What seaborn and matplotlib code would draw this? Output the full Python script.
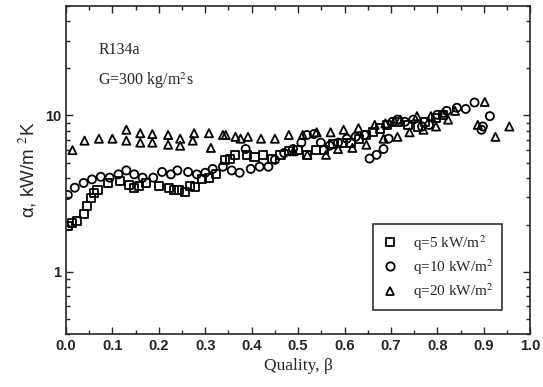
import matplotlib
matplotlib.use("Agg")
import matplotlib.pyplot as plt
from matplotlib.lines import Line2D
from matplotlib.ticker import MultipleLocator, LogLocator, NullFormatter, FixedLocator, FixedFormatter
import seaborn as sns
import pandas as pd

# q = 5 kW/m2 (squares)
q5_x = [0.005, 0.013, 0.023, 0.038, 0.045, 0.053, 0.060, 0.068, 0.090, 0.117, 0.135, 0.147,
        0.158, 0.173, 0.200, 0.222, 0.233, 0.244, 0.256, 0.267, 0.278, 0.293, 0.308, 0.323,
        0.342, 0.353, 0.365, 0.390, 0.406, 0.425, 0.444, 0.462, 0.480, 0.500, 0.519, 0.538,
        0.556, 0.575, 0.594, 0.613, 0.632, 0.647, 0.662, 0.677, 0.692, 0.714, 0.737, 0.759,
        0.774, 0.797, 0.812]
q5_y = [1.95, 2.05, 2.10, 2.35, 2.65, 2.95, 3.20, 3.35, 3.70, 3.80, 3.60, 3.45,
        3.55, 3.70, 3.55, 3.45, 3.35, 3.35, 3.25, 3.55, 3.50, 3.90, 4.00, 4.20,
        5.20, 5.30, 5.60, 5.60, 5.45, 5.60, 5.30, 5.60, 5.90, 6.05, 5.60, 6.05,
        6.05, 6.55, 6.70, 6.70, 7.10, 7.45, 7.80, 8.25, 8.70, 9.10, 8.70, 8.50,
        9.10, 9.60, 10.1]

# q = 10 kW/m2 (circles)
q10_x = [0.004, 0.019, 0.038, 0.056, 0.075, 0.094, 0.113, 0.130, 0.147, 0.165, 0.188, 0.207,
         0.226, 0.240, 0.263, 0.282, 0.300, 0.316, 0.338, 0.357, 0.374, 0.387, 0.398, 0.417,
         0.436, 0.450, 0.470, 0.489, 0.507, 0.519, 0.534, 0.549, 0.568, 0.586, 0.605, 0.624,
         0.643, 0.654, 0.669, 0.684, 0.695, 0.703, 0.714, 0.730, 0.748, 0.767, 0.782, 0.800,
         0.820, 0.842, 0.861, 0.880, 0.895, 0.898, 0.913]
q10_y = [3.10, 3.45, 3.70, 3.90, 4.05, 4.00, 4.20, 4.45, 4.20, 4.00, 4.00, 4.35,
         4.20, 4.45, 4.35, 4.20, 4.30, 4.55, 4.70, 4.45, 4.30, 6.10, 4.55, 4.70,
         4.70, 5.20, 5.75, 6.10, 6.70, 7.50, 7.60, 6.70, 6.40, 6.70, 7.10, 7.30,
         7.50, 5.30, 5.60, 6.10, 7.10, 9.10, 9.40, 9.10, 9.40, 8.50, 8.70, 10.1,
         10.7, 11.2, 11.0, 12.1, 8.10, 8.50, 9.90]

# q = 20 kW/m2 (triangles)
q20_x = [0.014, 0.040, 0.071, 0.100, 0.130, 0.130, 0.160, 0.160, 0.186, 0.186, 0.220, 0.220,
         0.246, 0.246, 0.276, 0.273, 0.308, 0.312, 0.338, 0.344, 0.365, 0.376, 0.392, 0.420,
         0.450, 0.480, 0.510, 0.540, 0.570, 0.598, 0.630, 0.665, 0.688, 0.720, 0.756, 0.786,
         0.812, 0.838, 0.902, 0.925, 0.955, 0.490, 0.520, 0.560, 0.586, 0.617, 0.647, 0.684,
         0.714, 0.740, 0.770, 0.797, 0.823, 0.887]
q20_y = [6.0, 6.9, 7.1, 7.1, 8.1, 6.9, 7.7, 6.7, 7.6, 6.7, 7.5, 6.5,
         7.1, 6.4, 7.7, 6.9, 7.7, 6.2, 7.5, 7.5, 7.3, 7.1, 7.3, 7.1,
         7.1, 7.5, 7.5, 7.8, 7.8, 8.1, 8.3, 8.7, 8.9, 9.4, 9.9, 9.9,
         10.4, 10.7, 12.2, 7.3, 8.5, 5.9, 5.6, 5.6, 6.1, 6.2, 6.5, 7.1,
         7.3, 7.8, 8.1, 8.5, 9.4, 8.7]

labels = [r"q=5 kW/m$^2$", r"q=10 kW/m$^2$", r"q=20 kW/m$^2$"]

df = pd.concat([
    pd.DataFrame({"beta": q5_x, "alpha": q5_y, "series": labels[0]}),
    pd.DataFrame({"beta": q10_x, "alpha": q10_y, "series": labels[1]}),
    pd.DataFrame({"beta": q20_x, "alpha": q20_y, "series": labels[2]}),
])

sns.set_style("ticks")
plt.rcParams["font.family"] = ["Liberation Serif", "DejaVu Serif"]
plt.rcParams["mathtext.fontset"] = "stix"

fig = plt.figure(figsize=(5.43, 3.87), dpi=100)
ax = fig.add_axes([0.1215, 0.137, 0.855, 0.847])

marker_map = {labels[0]: "s", labels[1]: "o", labels[2]: "^"}
sns.scatterplot(data=df, x="beta", y="alpha", style="series", markers=marker_map,
                s=34, facecolor="none", edgecolor="black", linewidth=1.3,
                legend=False, ax=ax)

ax.set_yscale("log")
ax.set_xlim(0.0, 1.0)
ax.set_ylim(0.4, 50)

ax.xaxis.set_major_locator(MultipleLocator(0.1))
ax.xaxis.set_minor_locator(MultipleLocator(0.05))
ax.yaxis.set_major_locator(FixedLocator([1, 10]))
ax.yaxis.set_major_formatter(FixedFormatter(["1", "10"]))
ax.yaxis.set_minor_locator(LogLocator(base=10, subs=range(2, 10)))
ax.yaxis.set_minor_formatter(NullFormatter())

ax.tick_params(which="both", direction="in", top=True, right=True, width=1.0)
ax.tick_params(which="major", length=5)
ax.tick_params(which="minor", length=3)
ax.set_xticklabels([f"{v:.1f}" for v in ax.get_xticks()], family="Liberation Sans",
                   fontsize=10.5, weight="bold", color="#222222")
for lab in ax.get_yticklabels():
    lab.set_family("Liberation Sans")
    lab.set_fontsize(10.5)
    lab.set_weight("bold")
    lab.set_color("#222222")

for sp in ax.spines.values():
    sp.set_linewidth(1.2)

ax.set_xlabel("Quality, β", fontsize=12.5)
ax.set_ylabel(r"α, kW/m $^2$K", fontsize=13.5, family=["Liberation Sans", "DejaVu Sans"])

ax.text(0.07, 0.855, "R134a", transform=ax.transAxes, fontsize=11.5)
ax.text(0.07, 0.76, r"G=300 kg/m$^2$s", transform=ax.transAxes, fontsize=11.5)

handles = [Line2D([], [], linestyle="none", marker=marker_map[l], markersize=6,
                  markerfacecolor="none", markeredgecolor="black", markeredgewidth=1.3)
           for l in labels]
leg = ax.legend(handles, labels, loc="lower right", bbox_to_anchor=(0.94, 0.073),
                frameon=True, fancybox=False, edgecolor="black", fontsize=11,
                borderpad=0.6, labelspacing=0.3, handlelength=1.0, handletextpad=1.0,
                borderaxespad=0)
leg.get_frame().set_linewidth(1.2)

fig.savefig("out.png", dpi=100)
